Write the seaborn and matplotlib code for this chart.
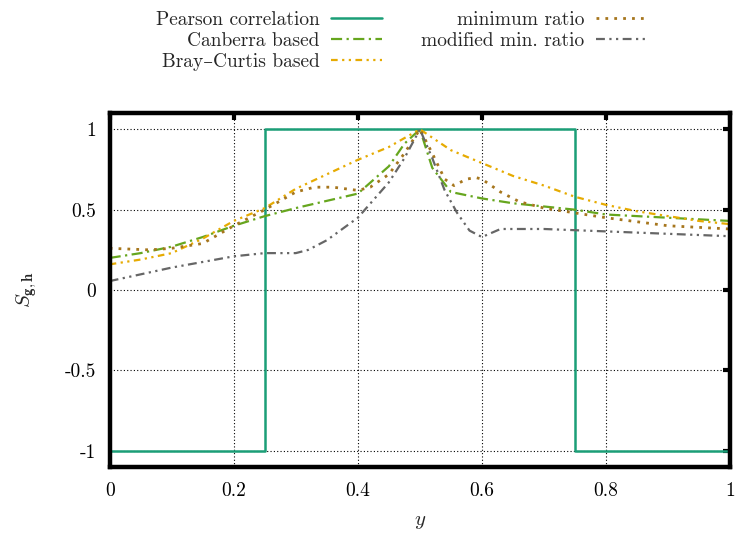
import matplotlib
matplotlib.use("Agg")
import matplotlib.pyplot as plt
import seaborn as sns

# === data ===
pearson_x = [0.0, 0.25, 0.25, 0.75, 0.75, 1.0]
pearson_y = [-1.0, -1.0, 1.0, 1.0, -1.0, -1.0]

canberra_x = [0.0, 0.05, 0.1, 0.15, 0.2, 0.25, 0.3, 0.35, 0.4, 0.45, 0.475, 0.5,
              0.52, 0.55, 0.6, 0.65, 0.7, 0.75, 0.8, 0.9, 1.0]
canberra_y = [0.20, 0.23, 0.27, 0.33, 0.40, 0.46, 0.51, 0.555, 0.60, 0.77, 0.91, 1.0,
              0.76, 0.61, 0.57, 0.54, 0.52, 0.50, 0.47, 0.45, 0.43]

bray_x = [0.0, 0.05, 0.1, 0.15, 0.2, 0.25, 0.3, 0.35, 0.4, 0.45, 0.5,
          0.55, 0.6, 0.65, 0.7, 0.75, 0.8, 0.85, 0.9, 0.95, 1.0]
bray_y = [0.16, 0.19, 0.23, 0.32, 0.43, 0.51, 0.63, 0.72, 0.81, 0.89, 1.0,
          0.87, 0.79, 0.71, 0.65, 0.58, 0.53, 0.49, 0.46, 0.43, 0.41]

minratio_x = [0.0, 0.065, 0.1, 0.15, 0.2, 0.25, 0.3, 0.33, 0.36, 0.38, 0.4, 0.42, 0.45, 0.475, 0.5,
              0.52, 0.54, 0.555, 0.575, 0.59, 0.6, 0.63, 0.66, 0.7, 0.75, 0.8, 0.9, 1.0]
minratio_y = [0.26, 0.25, 0.26, 0.29, 0.40, 0.50, 0.61, 0.64, 0.64, 0.63, 0.62, 0.64, 0.72, 0.85, 1.0,
              0.85, 0.69, 0.65, 0.69, 0.70, 0.69, 0.61, 0.55, 0.51, 0.48, 0.45, 0.40, 0.38]

modmin_x = [0.0, 0.1, 0.2, 0.25, 0.3, 0.32, 0.35, 0.4, 0.45, 0.475, 0.5,
            0.52, 0.54, 0.56, 0.58, 0.6, 0.63, 0.66, 0.7, 0.8, 0.9, 1.0]
modmin_y = [0.056, 0.14, 0.21, 0.23, 0.23, 0.25, 0.31, 0.45, 0.67, 0.82, 1.0,
            0.82, 0.62, 0.48, 0.37, 0.33, 0.38, 0.38, 0.38, 0.365, 0.35, 0.335]

xticks = [0, 0.2, 0.4, 0.6, 0.8, 1]
xtick_labels = ["0", "0.2", "0.4", "0.6", "0.8", "1"]
yticks = [-1, -0.5, 0, 0.5, 1]
ytick_labels = ["-1", "-0.5", "0", "0.5", "1"]

sns.set_style("white")
plt.rcParams["font.family"] = ["cmr10", "DejaVu Serif"]
plt.rcParams["mathtext.fontset"] = "cm"
plt.rcParams["axes.unicode_minus"] = False
plt.rcParams["axes.formatter.use_mathtext"] = True

fig = plt.figure(figsize=(7.36, 5.34), dpi=100)
ax = fig.add_axes([0.149, 0.1255, 0.843, 0.6625])

# estimator=None so seaborn keeps the vertical jumps of the step curve
sns.lineplot(x=pearson_x, y=pearson_y, ax=ax, sort=False, estimator=None,
             color="#1b9e77", lw=1.8, label="Pearson correlation")
sns.lineplot(x=canberra_x, y=canberra_y, ax=ax, color="#66a61e", lw=1.6,
             linestyle=(0, (5, 2, 1, 2)), label="Canberra based")
sns.lineplot(x=bray_x, y=bray_y, ax=ax, color="#e6ab02", lw=1.6,
             linestyle=(0, (3, 2, 1, 2, 1, 2)), label="Bray\u2013Curtis based")
sns.lineplot(x=minratio_x, y=minratio_y, ax=ax, color="#a6761d", lw=2.0,
             linestyle=(0, (1, 2.2)), label="minimum ratio")
sns.lineplot(x=modmin_x, y=modmin_y, ax=ax, color="#666666", lw=1.6,
             linestyle=(0, (4, 2, 1, 2, 1, 2)), label="modified min. ratio")

ax.set_xlim(0, 1)
ax.set_ylim(-1.1, 1.1)
ax.set_xticks(xticks)
ax.set_xticklabels(xtick_labels)
ax.set_yticks(yticks)
ax.set_yticklabels(ytick_labels)
ax.tick_params(direction="in", length=5, width=3.0, top=True, right=True,
               labelsize=14, colors="black")
ax.tick_params(axis="x", pad=11)
ax.tick_params(axis="y", pad=10)
for s in ax.spines.values():
    s.set_linewidth(3.2)
    s.set_color("black")
ax.grid(True, color="black", linestyle=(0, (1, 2)), lw=0.8)
ax.set_axisbelow(True)

ax.set_xlabel("$y$", fontsize=15, labelpad=9)
ax.set_ylabel(r"$S_{\mathbf{g},\mathbf{h}}$", fontsize=15, labelpad=18)

handles, labels = ax.get_legend_handles_labels()
ax.legend_.remove()
fig.legend(handles, labels, ncol=2, loc="upper center", bbox_to_anchor=(0.545, 1.012),
           frameon=False, fontsize=14, markerfirst=False, handlelength=2.6,
           columnspacing=2.0, labelspacing=0.15, handletextpad=0.6, alignment="right")
for t in fig.legends[0].get_texts():
    t.set_ha("right")

fig.savefig("out.png", dpi=100)
